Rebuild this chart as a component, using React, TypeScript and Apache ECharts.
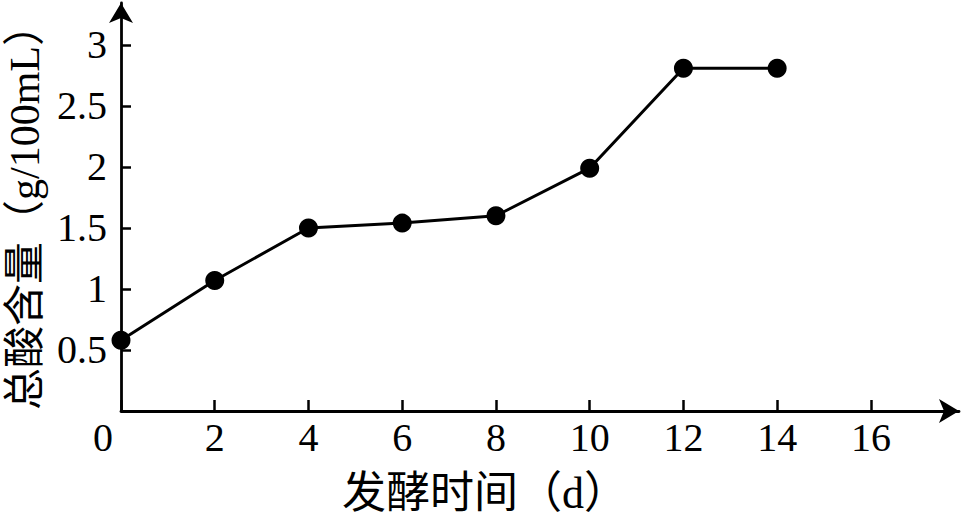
import React, { useEffect, useRef } from 'react';
import * as echarts from 'echarts';

// 发酵时间 (d) and 总酸含量 (g/100mL)
const days = [0, 2, 4, 6, 8, 10, 12, 14];
const totalAcid = [0.58, 1.07, 1.5, 1.54, 1.6, 1.99, 2.81, 2.81];

const xTicks = [0, 2, 4, 6, 8, 10, 12, 14, 16];
const yTicks = [0.5, 1, 1.5, 2, 2.5, 3];

const xName = '发酵时间（d）';
const yName = '总酸含量（g/100mL）';

const FONT = '"Liberation Serif", "Times New Roman", "Noto Sans CJK SC", serif';

const App = () => {
  const chartRef = useRef<HTMLDivElement>(null);

  useEffect(() => {
    const chart = echarts.init(chartRef.current!, null, { renderer: 'svg' });

    const axisLine = {
      show: true,
      symbol: ['none', 'arrow'],
      symbolSize: [18, 20],
      lineStyle: { color: '#000', width: 2.8 }
    };

    chart.setOption({
      animation: false,
      backgroundColor: '#fff',
      grid: {
        left: 121,
        right: 3,
        top: 3,
        bottom: 105,
        containLabel: false,
        outerBoundsMode: 'none'
      },
      xAxis: {
        type: 'value',
        min: 0,
        max: 17.88,
        name: xName,
        nameLocation: 'middle',
        nameGap: 60,
        nameTextStyle: {
          color: '#000',
          fontSize: 44,
          fontFamily: FONT,
          padding: [0, 110, 0, 0]
        },
        axisLine,
        axisTick: {
          show: true,
          inside: true,
          length: 11,
          customValues: xTicks,
          lineStyle: { color: '#000', width: 2.5 }
        },
        axisLabel: {
          customValues: xTicks,
          color: '#000',
          fontSize: 40,
          fontFamily: FONT,
          margin: 6,
          formatter: (v: number) => (v === 0 ? '{zero|0}' : String(v)),
          rich: {
            zero: {
              fontSize: 40,
              fontFamily: FONT,
              color: '#000',
              padding: [0, 36, 0, 0]
            }
          }
        },
        splitLine: { show: false }
      },
      yAxis: {
        type: 'value',
        min: 0,
        max: 3.344,
        name: yName,
        nameLocation: 'middle',
        nameGap: 67,
        nameTextStyle: {
          color: '#000',
          fontSize: 42,
          fontFamily: FONT
        },
        axisLine,
        axisTick: {
          show: true,
          inside: true,
          length: 10,
          customValues: yTicks,
          lineStyle: { color: '#000', width: 2.5 }
        },
        axisLabel: {
          customValues: yTicks,
          color: '#000',
          fontSize: 40,
          fontFamily: FONT,
          margin: 14
        },
        splitLine: { show: false }
      },
      series: [
        {
          type: 'line',
          data: days.map((d, i) => [d, totalAcid[i]]),
          symbol: 'circle',
          symbolSize: 19,
          showAllSymbol: true,
          clip: false,
          lineStyle: { color: '#000', width: 3 },
          itemStyle: { color: '#000' }
        }
      ]
    });

    return () => {
      chart.dispose();
    };
  }, []);

  return (
    <div
      ref={chartRef}
      style={{ position: 'fixed', left: 0, top: 0, width: 962, height: 516 }}
    ></div>
  );
};

export default App;
